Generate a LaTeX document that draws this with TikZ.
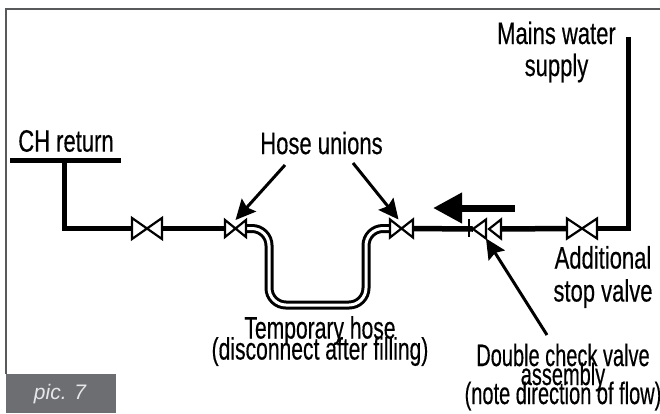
\documentclass[tikz,border=0pt]{standalone}
\usepackage{fontspec}
\setmainfont[FakeStretch=0.71,FakeBold=0.35]{Liberation Sans}
\newfontfamily\picfont{Liberation Sans}
\newfontfamily\hosefont[FakeStretch=0.68,FakeBold=0.35]{Liberation Sans}
\newfontfamily\checkfont[FakeStretch=0.645,FakeBold=0.35]{Liberation Sans}
\newcommand{\lblsize}[1]{\fontsize{31}{#1}\selectfont\lineskiplimit=-60pt\relax}
\usetikzlibrary{arrows.meta}
\definecolor{framegrey}{HTML}{58595B}
\definecolor{tabgrey}{HTML}{6D6E71}
\definecolor{tabtext}{HTML}{E6E7E8}
\tikzset{
  lbl/.style={inner sep=0pt,outer sep=0pt,align=center,text=black},
  valvebox/.style={inner sep=0pt,outer sep=0pt,rectangle},
  valvebody/.style={draw=black,fill=white,line width=2.2pt,line join=miter},
  pipe/.style={draw=black,line width=5.5pt,line join=miter},
  pointer/.style={draw=black,line width=3pt,-{Stealth[length=20pt,width=19pt,inset=3pt]}},
  flow/.style={draw=black,line width=7pt,-{Stealth[length=29pt,width=29pt,inset=0pt]}},
  hoseout/.style={draw=black,line width=9pt,rounded corners=17pt},
  hosein/.style={draw=white,line width=3pt,rounded corners=17pt}
}
\begin{document}
\begin{tikzpicture}[x=1pt,y=-1pt]
\useasboundingbox (0,0) rectangle (660,413);
\fill[white] (0,0) rectangle (660,413);
% frame
\coordinate (fbl) at (6,374);
\coordinate (ftl) at (6,9);
\coordinate (ftr) at (660,9);
\draw[framegrey,line width=1.6pt] (fbl) -- (ftl) -- (ftr);
% tab
\node[fill=tabgrey,inner sep=0pt,outer sep=0pt,minimum width=110pt,minimum height=39pt,anchor=north west,text=tabtext] (tab) at (6,374) {};
\node[text=tabtext,inner sep=0pt,anchor=base] (tabtxt) at (60,399) {\picfont\fontsize{21}{22}\selectfont\itshape pic. 7};
% valves and fittings
\node[valvebox,minimum width=30pt,minimum height=21pt] (v1) at (147,228.5) {};
\node[valvebox,minimum width=21pt,minimum height=17pt] (v2) at (235.5,228.5) {};
\node[valvebox,minimum width=23pt,minimum height=18pt] (v3) at (401.5,228.5) {};
\node[valvebox,minimum width=30pt,minimum height=20pt] (v4) at (582,228.5) {};
\node[valvebox,minimum width=13pt,minimum height=19pt] (c1) at (479.5,229) {};
\node[valvebox,minimum width=12pt,minimum height=19pt] (c2) at (495,229) {};
% pipe ends
\coordinate (barl) at (10,160.5);
\coordinate (barr) at (121,160.5);
\coordinate (barm) at (64.5,160.5);
\coordinate (mains) at (628.5,37);
\coordinate (bendl) at (64.5,228.5);
\coordinate (bendr) at (628.5,228.5);
\draw[pipe] (barl) -- (barr);
\draw[pipe] (barm) -- (bendl) -- (v1.west);
\draw[pipe] (v1.east) -- (v2.west);
\draw[pipe] (v3.east) -- (c1.west);
\draw[pipe] (c2.east) -- (v4.west);
\draw[pipe] (v4.east) -- (bendr) -- (mains);
% hose
\coordinate (h1) at (269,228.5);
\coordinate (h2) at (269,305);
\coordinate (h3) at (366,305);
\coordinate (h4) at (366,228.5);
\draw[hoseout] (v2.east) -- (h1) -- (h2) -- (h3) -- (h4) -- (v3.west);
\draw[hosein] (v2.east) -- (h1) -- (h2) -- (h3) -- (h4) -- (v3.west);
% valve bodies
\foreach \v in {v1,v2,v3,v4}{
  \draw[valvebody] (\v.north west) -- (\v.south east) -- (\v.north east) -- (\v.south west) -- cycle;
}
\foreach \v in {c1,c2}{
  \draw[valvebody] (\v.west) -- (\v.north east) -- (\v.south east) -- cycle;
}
\coordinate (cbt) at (469,219);
\coordinate (cbb) at (469,237);
\draw[black,line width=2.6pt] (cbt) -- (cbb);
% flow arrow
\coordinate (fs) at (515,208);
\coordinate (fe) at (433,208);
\draw[flow] (fs) -- (fe);
% pointers
\coordinate (ps1) at (285,165);
\coordinate (ps2) at (353,163);
\coordinate (ps3) at (547,335);
\draw[pointer] (ps1) -- (v2.north);
\draw[pointer] (ps2) -- ([xshift=-3pt]v3.north);
\draw[pointer] (ps3) -- (c1.south east);
% labels
\node[lbl,font=\lblsize{20}] (t1) at (66,141) {CH return};
\node[lbl,font=\lblsize{32}] (t2) at (556.5,52) {Mains water\\supply};
\node[lbl,font=\lblsize{20}] (t3) at (321.5,143) {Hose unions};
\node[lbl,font=\lblsize{33}] (t4) at (603,277) {Additional\\stop valve};
\node[lbl,font=\hosefont\lblsize{21}] (t5) at (320,341) {Temporary hose\\(disconnect after filling)};
\node[lbl,font=\checkfont\lblsize{19}] (t6) at (563,377) {Double check valve\\assembly\\(note direction of flow)};
\end{tikzpicture}
\end{document}
